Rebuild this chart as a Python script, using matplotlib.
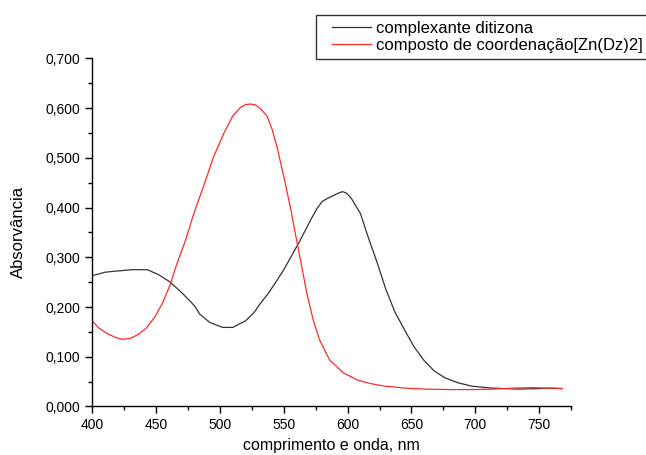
import matplotlib
matplotlib.use('Agg')
import matplotlib.pyplot as plt
from matplotlib.ticker import MultipleLocator, FuncFormatter
from matplotlib.legend_handler import HandlerLine2D

plt.rcParams['font.family'] = ['Liberation Sans', 'DejaVu Sans']

# Spectra (wavelength nm, absorbance)
wl_ditizona = [400, 410, 418, 431, 443, 452, 461, 470, 478, 481, 484, 492, 502, 510,
               520, 527, 531, 538, 545, 550, 555, 563, 571, 576, 580, 584, 588, 592,
               596, 599, 603, 606, 610, 616, 623, 630, 637, 645, 652, 660, 668, 676,
               686, 697, 713, 734, 750, 761, 768]
abs_ditizona = [0.263, 0.270, 0.272, 0.275, 0.275, 0.265, 0.250, 0.229, 0.208, 0.199,
                0.186, 0.169, 0.159, 0.159, 0.172, 0.190, 0.205, 0.228, 0.255, 0.275,
                0.298, 0.335, 0.375, 0.398, 0.412, 0.418, 0.423, 0.428, 0.432, 0.429,
                0.418, 0.405, 0.388, 0.341, 0.290, 0.235, 0.190, 0.152, 0.120, 0.092,
                0.071, 0.058, 0.048, 0.041, 0.037, 0.035, 0.036, 0.037, 0.036]

wl_znDz = [400, 405, 412, 418, 423, 430, 436, 442, 449, 455, 461, 466, 473, 479, 487,
           495, 503, 510, 516, 520, 524, 528, 532, 537, 541, 545, 550, 555, 559, 563,
           568, 573, 578, 586, 597, 608, 618, 629, 645, 660, 680, 700, 715, 730, 745,
           755, 768]
abs_znDz = [0.172, 0.158, 0.146, 0.139, 0.135, 0.137, 0.145, 0.157, 0.180, 0.208, 0.245,
            0.285, 0.334, 0.384, 0.442, 0.502, 0.549, 0.584, 0.601, 0.607, 0.608, 0.606,
            0.598, 0.583, 0.556, 0.518, 0.462, 0.402, 0.348, 0.295, 0.228, 0.174, 0.134,
            0.093, 0.067, 0.053, 0.046, 0.041, 0.037, 0.035, 0.034, 0.034, 0.035, 0.037,
            0.038, 0.037, 0.036]

labels = ['complexante ditizona', 'composto de coordenação[Zn(Dz)2]']

fig = plt.figure(figsize=(6.46, 4.55), dpi=100)
ax = fig.add_axes([0.1429, 0.1066, 0.884 - 0.1429, 0.8719 - 0.1066])

ax.plot(wl_ditizona, abs_ditizona, color='#333333', lw=0.9, label=labels[0])
ax.plot(wl_znDz, abs_znDz, color='#ff2a2a', lw=0.9, label=labels[1])

ax.set_xlim(400, 775)
ax.set_ylim(0, 0.7)
ax.xaxis.set_major_locator(MultipleLocator(50))
ax.xaxis.set_minor_locator(MultipleLocator(25))
ax.yaxis.set_major_locator(MultipleLocator(0.1))
ax.yaxis.set_minor_locator(MultipleLocator(0.05))
ax.yaxis.set_major_formatter(FuncFormatter(lambda v, p: f'{v:.3f}'.replace('.', ',')))

for s in ['top', 'right']:
    ax.spines[s].set_visible(False)
for s in ['left', 'bottom']:
    ax.spines[s].set_linewidth(1.0)
ax.tick_params(which='major', direction='out', length=5, width=1, labelsize=10)
ax.tick_params(which='minor', direction='out', length=3, width=1)

ax.set_xlabel('comprimento e onda, nm', fontsize=11.5, labelpad=4)
ax.set_ylabel('Absorvância', fontsize=12, labelpad=14)

# legend box runs off the right edge like in the original
leg = fig.legend(loc='upper left', bbox_to_anchor=(316 / 646, 1 - 15 / 455),
                 fontsize=12, frameon=True, fancybox=False, edgecolor='black',
                 handlelength=2.96, handletextpad=0.3, borderpad=0.35,
                 labelspacing=0.12, borderaxespad=0,
                 handler_map={plt.Line2D: HandlerLine2D(xpad=0.62)})
leg.get_frame().set_linewidth(1.0)

plt.savefig('out.png', dpi=100)
